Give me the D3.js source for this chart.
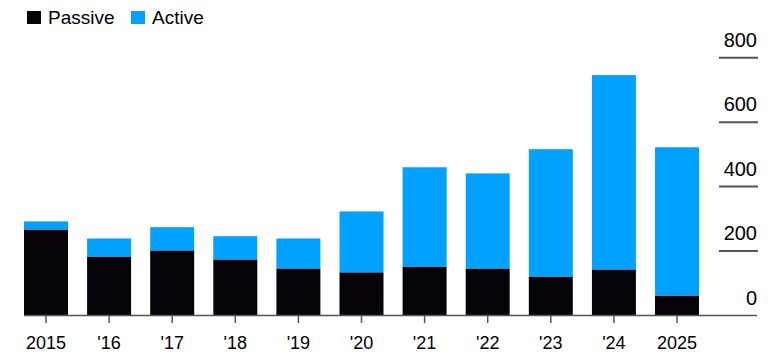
<!DOCTYPE html>
<html>
<head>
<meta charset="utf-8">
<script src="https://cdn.jsdelivr.net/npm/d3@7"></script>
<style>
  body { margin: 0; background: #fff; }
  svg text { font-family: "Liberation Sans", Arial, sans-serif; fill: #000; }
</style>
</head>
<body>
<svg id="chart" width="771" height="357"></svg>
<script>
var years = ["2015", "'16", "'17", "'18", "'19", "'20", "'21", "'22", "'23", "'24", "2025"];
var passive = [267, 183, 202, 174, 146, 134, 152, 146, 121, 143, 62];
var active = [25, 56, 72, 72, 93, 189, 308, 295, 395, 603, 460];
var yTicks = [0, 200, 400, 600, 800];

var svg = d3.select("#chart");

// scales
var x = d3.scaleBand()
    .domain(years)
    .range([24, 699])
    .paddingInner(0.303)
    .paddingOuter(0);

var y = d3.scaleLinear()
    .domain([0, 800])
    .range([315.5, 57.7]);

var colors = { passive: "#050308", active: "#00a1ff" };

// gridlines on the right
svg.append("g")
    .selectAll("line")
    .data(yTicks.filter(function (d) { return d > 0; }))
    .enter().append("line")
    .attr("x1", 719)
    .attr("x2", 758)
    .attr("y1", function (d) { return y(d); })
    .attr("y2", function (d) { return y(d); })
    .attr("stroke", "#555")
    .attr("stroke-width", 2);

svg.append("g")
    .selectAll("text")
    .data(yTicks)
    .enter().append("text")
    .attr("x", 757)
    .attr("y", function (d) { return y(d) - 11; })
    .attr("text-anchor", "end")
    .style("font-size", "20px")
    .text(function (d) { return d; });

// bars
var g = svg.append("g");
years.forEach(function (yr, i) {
    g.append("rect")
        .attr("x", x(yr))
        .attr("width", x.bandwidth())
        .attr("y", y(passive[i]))
        .attr("height", y(0) - y(passive[i]))
        .attr("fill", colors.passive);
    g.append("rect")
        .attr("x", x(yr))
        .attr("width", x.bandwidth())
        .attr("y", y(passive[i] + active[i]))
        .attr("height", y(passive[i]) - y(passive[i] + active[i]))
        .attr("fill", colors.active);
});

// x axis
svg.append("line")
    .attr("x1", 24)
    .attr("x2", 757)
    .attr("y1", y(0))
    .attr("y2", y(0))
    .attr("stroke", "#555")
    .attr("stroke-width", 1.5);

svg.append("g")
    .selectAll("line")
    .data(years)
    .enter().append("line")
    .attr("x1", function (d) { return x(d) + x.bandwidth() / 2; })
    .attr("x2", function (d) { return x(d) + x.bandwidth() / 2; })
    .attr("y1", y(0))
    .attr("y2", y(0) + 7.5)
    .attr("stroke", "#555")
    .attr("stroke-width", 1.5);

svg.append("g")
    .selectAll("text")
    .data(years)
    .enter().append("text")
    .attr("x", function (d) { return x(d) + x.bandwidth() / 2; })
    .attr("y", 349)
    .attr("text-anchor", "middle")
    .style("font-size", "18px")
    .text(function (d) { return d; });

// legend
var legend = [
    { name: "Passive", color: colors.passive, x: 27 },
    { name: "Active", color: colors.active, x: 131 }
];
var lg = svg.append("g").selectAll("g")
    .data(legend)
    .enter().append("g");
lg.append("rect")
    .attr("x", function (d) { return d.x; })
    .attr("y", 11)
    .attr("width", 14)
    .attr("height", 13)
    .attr("fill", function (d) { return d.color; });
lg.append("text")
    .attr("x", function (d) { return d.x + 21; })
    .attr("y", 24)
    .style("font-size", "19px")
    .text(function (d) { return d.name; });
</script>
</body>
</html>
